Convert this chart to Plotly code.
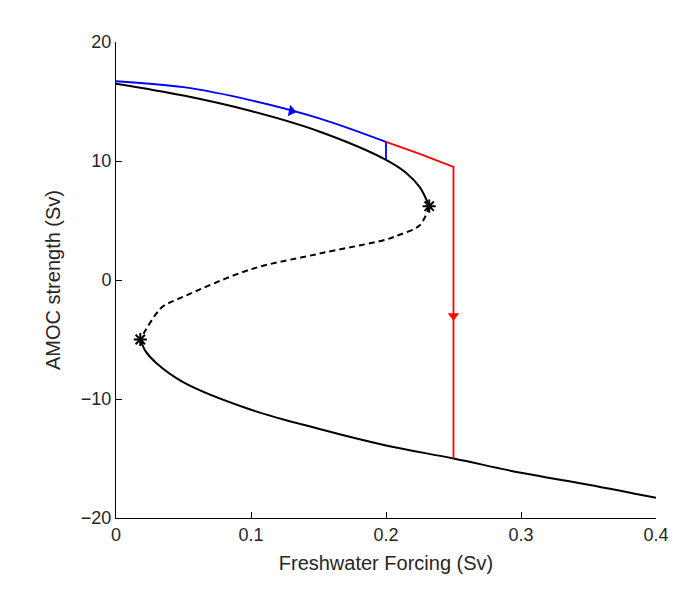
import plotly.graph_objects as go

up_x = [0, 0.05, 0.1, 0.15, 0.2, 0.215, 0.225, 0.232]
up_y = [16.5, 15.5, 14.2, 12.5, 10.1, 9.0, 7.8, 6.2]
un_x = [0.232, 0.225, 0.21, 0.2, 0.15, 0.1, 0.05, 0.035, 0.03, 0.022, 0.018]
un_y = [6.2, 4.6, 3.8, 3.4, 2.2, 0.9, -1.4, -2.2, -2.8, -4.2, -5.0]
lo_x = [0.018, 0.022, 0.03, 0.05, 0.1, 0.15, 0.2, 0.25, 0.3, 0.35, 0.4]
lo_y = [-5.0, -6.0, -7.0, -8.6, -10.9, -12.5, -13.9, -15.0, -16.2, -17.2, -18.3]
blue_x = [0, 0.05, 0.1, 0.15, 0.2]
blue_y = [16.7, 16.2, 15.1, 13.6, 11.6]
blue_drop_x = [0.2, 0.2]
blue_drop_y = [11.6, 10.1]
red_x = [0.2, 0.225, 0.25, 0.25]
red_y = [11.6, 10.6, 9.5, -15.0]
fold_x = [0.232, 0.018]
fold_y = [6.2, -5.0]

fig = go.Figure()
fig.add_trace(go.Scatter(x=up_x, y=up_y, mode="lines", line=dict(color="black", width=2, shape="spline")))
fig.add_trace(go.Scatter(x=un_x, y=un_y, mode="lines", line=dict(color="black", width=2, dash="6px,4px", shape="spline")))
fig.add_trace(go.Scatter(x=lo_x, y=lo_y, mode="lines", line=dict(color="black", width=2, shape="spline")))
fig.add_trace(go.Scatter(x=blue_x, y=blue_y, mode="lines", line=dict(color="blue", width=1.8, shape="spline")))
fig.add_trace(go.Scatter(x=blue_drop_x, y=blue_drop_y, mode="lines", line=dict(color="blue", width=1.8)))
fig.add_trace(go.Scatter(x=red_x, y=red_y, mode="lines", line=dict(color="red", width=1.8)))
fig.add_trace(go.Scatter(x=[0.13], y=[14.2], mode="markers",
                         marker=dict(symbol="triangle-right", color="blue", size=10, angle=12)))
fig.add_trace(go.Scatter(x=[0.25], y=[-3.0], mode="markers",
                         marker=dict(symbol="triangle-down", color="red", size=10)))
fig.add_trace(go.Scatter(x=fold_x, y=fold_y, mode="markers",
                         marker=dict(symbol="asterisk-open", size=11, color="black",
                                     line=dict(color="black", width=2))))

ax = dict(showgrid=False, zeroline=False, showline=True, linecolor="black", linewidth=1,
          ticks="inside", ticklen=6, tickcolor="black", mirror=False, automargin=False,
          tickfont=dict(size=18, color="#262626"), title_font=dict(size=20, color="#262626"))
fig.update_layout(width=680, height=605, showlegend=False, plot_bgcolor="white", paper_bgcolor="white",
                  margin=dict(l=108, r=32, t=34, b=95),
                  font=dict(family="Liberation Sans, Arial"))
fig.update_xaxes(range=[0, 0.4], tickvals=[0, 0.1, 0.2, 0.3, 0.4], ticktext=["0", "0.1", "0.2", "0.3", "0.4"],
                 title_text="Freshwater Forcing (Sv)", title_standoff=12, **ax)
fig.update_yaxes(range=[-20, 20], tickvals=[-20, -10, 0, 10, 20], title_text="AMOC strength (Sv)",
                 title_standoff=14, **ax)
fig.write_html("out.html")
